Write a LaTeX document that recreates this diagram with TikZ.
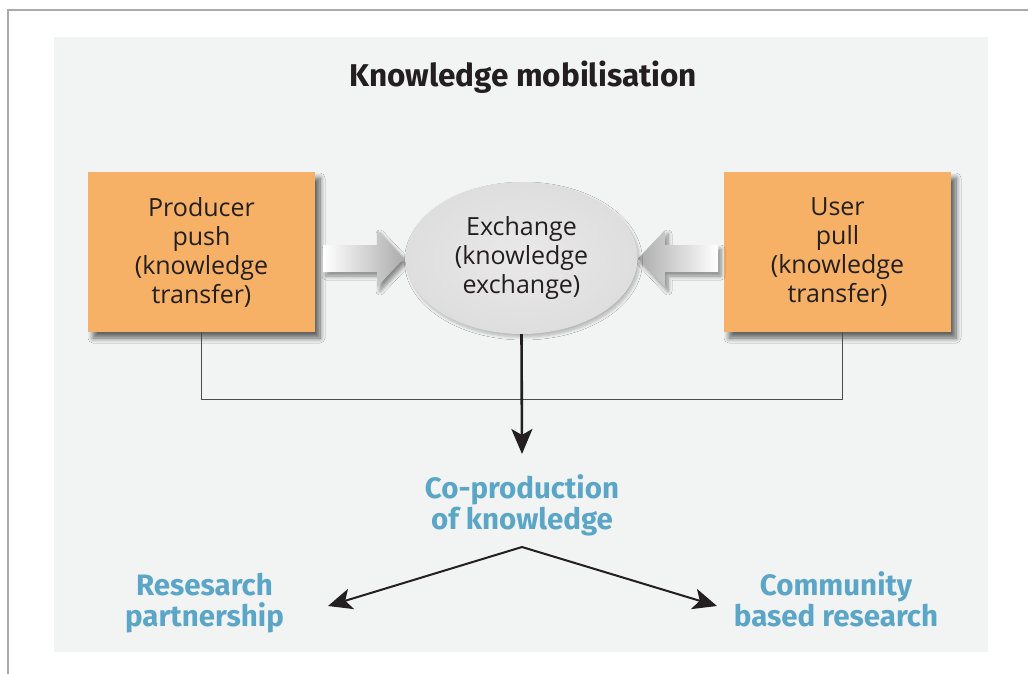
\documentclass[tikz,border=0pt]{standalone}
\usepackage{fontspec}
\setmainfont{Open Sans}
\newfontfamily\headfont{Fira Sans}
\usetikzlibrary{arrows.meta,shadows.blur,shapes.geometric}
\definecolor{panel}{HTML}{F2F3F3}
\definecolor{boxorange}{HTML}{F7B167}
\definecolor{headblue}{HTML}{5BA6C7}
\definecolor{framegray}{HTML}{AAAAAA}
\definecolor{txt}{HTML}{231F20}
\tikzset{
  box/.style={draw=none, fill=boxorange, minimum width=227pt, minimum height=160pt,
    align=center, inner sep=0pt, text=txt, font=\fontsize{25}{29}\selectfont,
    blur shadow={shadow xshift=5pt, shadow yshift=-6pt, shadow blur steps=8, shadow blur radius=5pt, shadow opacity=60}},
  oval/.style={ellipse, draw=none, inner sep=0pt, minimum width=232pt, minimum height=152pt,
    inner color=gray!17, outer color=gray!26, align=center, text=txt, font=\fontsize{25}{29}\selectfont,
    blur shadow={shadow xshift=2pt, shadow yshift=-3pt, shadow blur steps=6, shadow blur radius=3pt, shadow opacity=25}},
  heading/.style={font=\headfont\bfseries\fontsize{31.5}{35}\selectfont, text=txt},
  bluelabel/.style={font=\headfont\bfseries\fontsize{29.5}{31}\selectfont, text=headblue, align=center, inner sep=0pt},
  thinline/.style={draw=black!70, line width=1.2pt},
  mainarrow/.style={draw=txt, line width=2.6pt, -{Stealth[length=25pt, width=21pt, inset=6pt]}},
  splitarrow/.style={draw=txt, line width=2pt, -{Stealth[length=24pt, width=21pt, inset=6pt]}},
  fatarrow/.style={draw=none, blur shadow={shadow xshift=3pt, shadow yshift=-4pt, shadow blur steps=6, shadow blur radius=4pt, shadow opacity=45}}
}
\begin{document}
\begin{tikzpicture}[x=1pt, y=-1pt]
  \useasboundingbox (0,0) rectangle (1028,674);
  \fill[white] (0,0) rectangle (1028,674);
  % frame
  \draw[framegray, line width=1.5pt] (8,674) -- (8,10) -- (1028,10);
  % panel
  \fill[panel] (54,37) rectangle (988,652);

  \node[heading, anchor=base] (title) at (523,87) {Knowledge mobilisation};

  \node[box] (prod) at (201.5,252) {Producer\\push\\(knowledge\\transfer)};
  \node[box] (user) at (837.5,252) {User\\pull\\(knowledge\\transfer)};

  % connector lines from boxes
  \coordinate (ubase) at ([xshift=5pt]user.south);
  \draw[thinline] (prod.south) -- ++(0,67) -| (ubase);

  % fat arrows
  \shade[fatarrow, left color=white, right color=gray!65]
    (323,245) -- (377,245) -- (377,230) -- (404,258.5) -- (377,287) -- (377,272) -- (323,272) -- cycle;
  \shade[fatarrow, right color=white, left color=gray!65]
    (718,245) -- (665,245) -- (665,230) -- (638,258.5) -- (665,287) -- (665,272) -- (718,272) -- cycle;

  \node[oval] (exch) at (521.5,258) {Exchange\\(knowledge\\exchange)};

  \node[bluelabel] (coprod) at (522,505) {Co-production\\of knowledge};
  \coordinate (tipC) at (522,454);
  \draw[mainarrow] (exch.south) -- (tipC);

  \node[bluelabel] (research) at (204.5,603) {Resesarch\\partnership};
  \node[bluelabel] (community) at (836,599) {Community\\based research};

  \coordinate (apex) at (522,547);
  \coordinate (tipL) at (328,606);
  \coordinate (tipR) at (717,606);
  \draw[splitarrow] (apex) -- (tipL);
  \draw[splitarrow] (apex) -- (tipR);
\end{tikzpicture}
\end{document}
